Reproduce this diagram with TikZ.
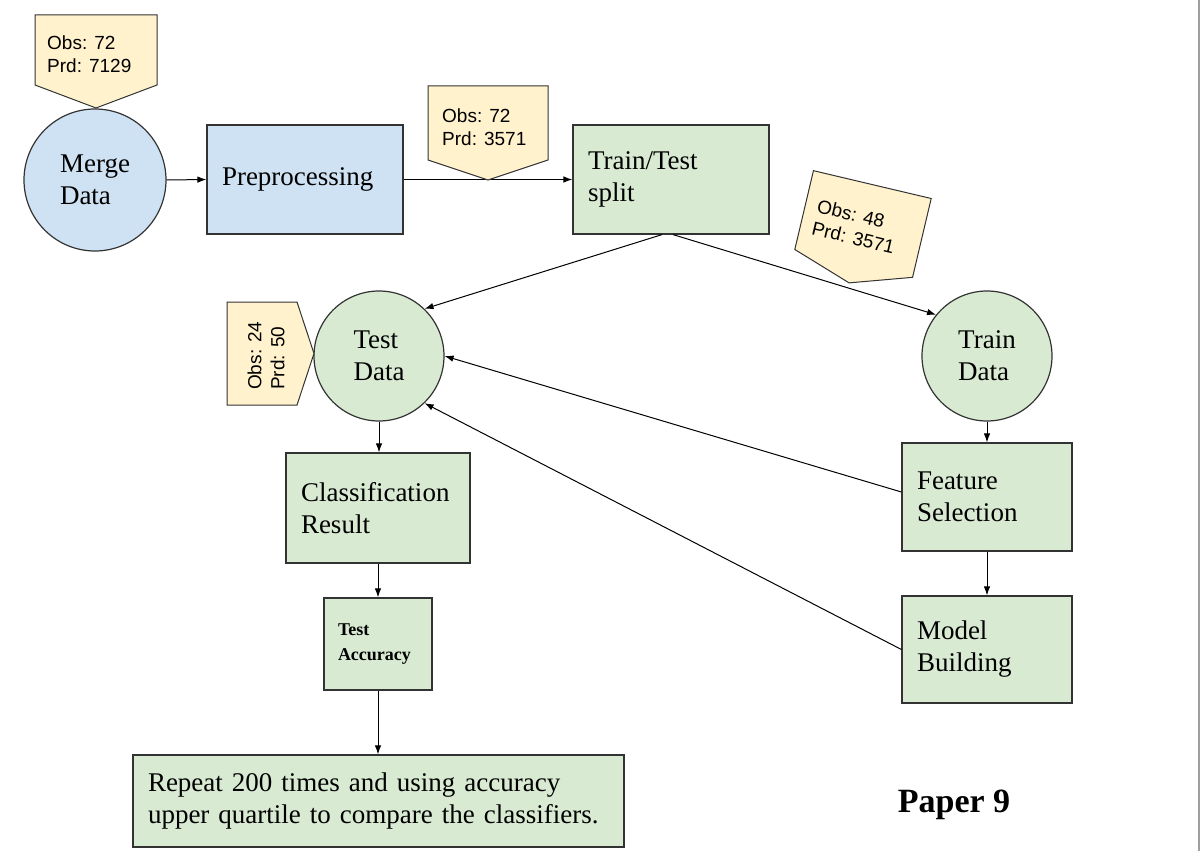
\documentclass[tikz,border=0pt]{standalone}
\usepackage{fontspec}
\setmainfont{Liberation Serif}
\newfontfamily\notefont{Liberation Sans}
\usetikzlibrary{arrows.meta}

\definecolor{noteyellow}{HTML}{FFF2CC}
\definecolor{stepblue}{HTML}{CFE2F3}
\definecolor{stepgreen}{HTML}{D9EAD3}
\definecolor{edgegray}{HTML}{333333}

\tikzset{
  base/.style={draw=edgegray, line width=1.2pt, font=\fontsize{27}{32}\selectfont, align=left},
  box/.style={base, rectangle, inner xsep=15pt, inner ysep=0pt},
  disc/.style={base, circle, inner sep=0pt},
  note/.style={draw=edgegray, line width=1pt, fill=noteyellow, line join=miter},
  notetext/.style={font=\notefont\fontsize{19}{23}\selectfont, align=left, inner sep=0pt, anchor=west},
  flow/.style={draw=black, line width=1pt, -{Latex[length=9pt,width=6.5pt]}},
}

% pentagon-shaped note: name, x, y, width, height, tip depth, rotation, text inset, text
\newcommand\notebox[9]{%
  \begin{scope}[shift={(#2,#3)}, rotate=#7]
    \draw[note] (-#4/2,-#5/2) -- (#4/2,-#5/2) -- (#4/2,#5/2) -- (0,#5/2+#6) -- (-#4/2,#5/2) -- cycle;
    \node[notetext, transform shape] (#1) at (-#4/2+#8,4) {#9};
  \end{scope}}

\begin{document}
\begin{tikzpicture}[x=1pt, y=-1pt]
  \useasboundingbox (0,0) rectangle (1203,851);

  % page edge on the right
  \draw[gray!75, line width=1.6pt] (1199,0) -- (1199,851);

  % pipeline steps
  \node[disc, fill=stepblue, minimum size=142pt] (merge) at (95,180) {Merge\\Data};
  \node[box, fill=stepblue, text width=166pt, minimum height=109pt] (prep) at (305,179.5) {Preprocessing};
  \node[box, fill=stepgreen, text width=166pt, minimum height=109pt] (split) at (671,179.5) {Train/Test\\split};
  \node[disc, fill=stepgreen, minimum size=130pt] (test) at (379,356) {Test\\Data};
  \node[disc, fill=stepgreen, minimum size=130pt] (train) at (987,356) {Train\\Data};
  \node[box, fill=stepgreen, text width=154pt, minimum height=110pt] (result) at (378,508) {Classification\\Result};
  \node[box, fill=stepgreen, text width=80pt, inner xsep=14pt, minimum height=92pt,
        font=\bfseries\fontsize{18}{25}\selectfont] (acc) at (378,644) {Test\\Accuracy};
  \node[box, fill=stepgreen, text width=461pt, minimum height=92pt] (repeat) at (378.5,801)
        {Repeat 200 times and using accuracy\\upper quartile to compare the classifiers.};
  \node[box, fill=stepgreen, text width=140pt, minimum height=108pt] (feat) at (987,497) {Feature\\Selection};
  \node[box, fill=stepgreen, text width=140pt, minimum height=107pt] (model) at (987,649.5) {Model\\Building};

  \node[font=\bfseries\fontsize{34}{40}\selectfont, inner sep=0pt] (paper) at (954,805) {Paper 9};

  % connectors
  \draw[flow] (merge.east) -- (prep.west);
  \draw[flow] (prep.east) -- (split.west);
  \draw[flow] ([xshift=-9pt]split.south) -- (test.46);
  \draw[flow] ([xshift=2pt]split.south) -- (train.141);
  \draw[flow] ([yshift=5pt]feat.west) -- (test.0);
  \draw[flow] (model.west) -- (test.-46);
  \draw[flow] (test.south) -- (test.south |- result.north);
  \draw[flow] (result.south) -- (acc.north);
  \draw[flow] (acc.south) -- (acc.south |- repeat.north);
  \draw[flow] (train.south) -- (feat.north);
  \draw[flow] (feat.south) -- (model.north);

  % data size notes
  \notebox{n1}{96}{50}{122}{70}{23}{0}{12}{Obs: 72\\Prd: 7129}
  \notebox{n2}{488}{123}{120}{74}{20}{0}{14}{Obs: 72\\Prd: 3571}
  \notebox{n3}{863}{224}{121}{81}{20}{-13.3}{12}{Obs: 48\\Prd: 3571}
  \notebox{n4}{262}{353.5}{103}{70}{17}{90}{15}{Obs: 24\\Prd: 50}
\end{tikzpicture}
\end{document}
